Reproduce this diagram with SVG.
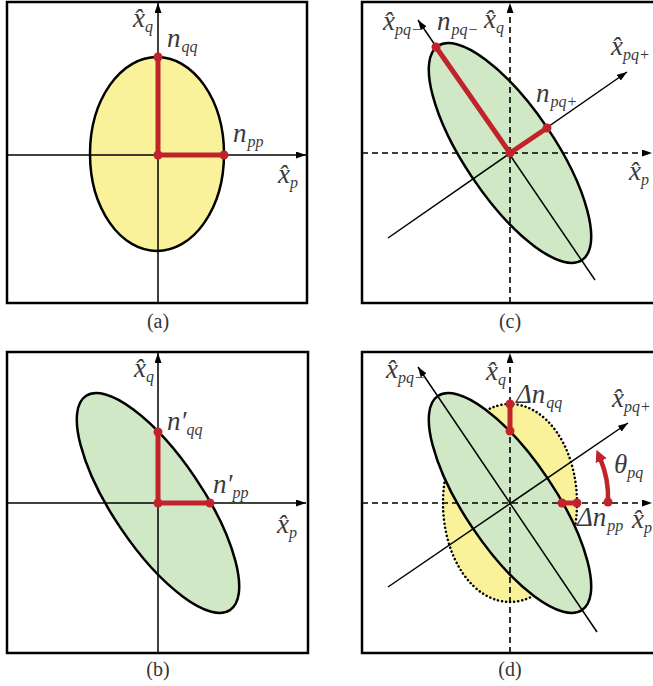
<svg xmlns="http://www.w3.org/2000/svg" width="653" height="686" viewBox="0 0 653 686">
<style>
.box{fill:none;stroke:#000;stroke-width:2.5}
.ax{fill:none;stroke:#000;stroke-width:1.5}
.dax{fill:none;stroke:#000;stroke-width:1.6;stroke-dasharray:6,4}
.ey{fill:#FAF29B;stroke:#000;stroke-width:2.5}
.eg{fill:#D0E8C6;stroke:#000;stroke-width:2.5}
.ed{fill:#FAF29B;stroke:#000;stroke-width:2.5;stroke-dasharray:0.1,4;stroke-linecap:round}
.red{fill:none;stroke:#C1232B;stroke-width:5;stroke-linecap:round;stroke-linejoin:round}
.dot{fill:#C1232B}
text{font-family:'Liberation Serif','Times New Roman',serif}
.lb{font-style:italic;font-size:27px;fill:#3a3a3a}
.sb{font-size:16px}
.cap{font-size:20px;fill:#333;text-anchor:middle}
</style>
<defs>
<marker id="ar" viewBox="0 0 10 7" refX="10" refY="3.5" markerWidth="10" markerHeight="7" markerUnits="userSpaceOnUse" orient="auto"><path d="M0,0L10,3.5L0,7z" fill="#000"/></marker>
<marker id="arr" viewBox="0 0 12 12" refX="3" refY="6" markerWidth="12" markerHeight="12" markerUnits="userSpaceOnUse" orient="auto"><path d="M0,0L12,6L0,12z" fill="#C1232B"/></marker>
</defs>

<g id="panel-a">
<rect class="box" x="7" y="2" width="300" height="301"/>
<ellipse class="ey" cx="157" cy="154" rx="67" ry="97"/>
<g id="axes-a">
<line class="ax" x1="7" y1="155" x2="306" y2="155" marker-end="url(#ar)"/>
<line class="ax" x1="158" y1="303" x2="158" y2="3" marker-end="url(#ar)"/>
</g>
<path class="red" d="M158,57V155H224"/>
<circle class="dot" cx="158" cy="57" r="4.5"/><circle class="dot" cx="158" cy="155" r="4.5"/><circle class="dot" cx="224" cy="155" r="4.5"/>
<text class="lb" x="133" y="27">x̂<tspan class="sb" dy="5">q</tspan></text>
<text class="lb" x="167" y="47">n<tspan class="sb" dx="1" dy="5">qq</tspan></text>
<text class="lb" x="233" y="142">n<tspan class="sb" dx="1" dy="5">pp</tspan></text>
<text class="lb" x="278" y="183">x̂<tspan class="sb" dy="5">p</tspan></text>
<text class="cap" x="158" y="328">(a)</text>
</g>

<g id="panel-b">
<rect class="box" x="7" y="352" width="301" height="301"/>
<ellipse class="eg" cx="0" cy="0" rx="129" ry="45" transform="translate(158,503) rotate(56)"/>
<g id="axes-b">
<line class="ax" x1="7" y1="503" x2="306" y2="503" marker-end="url(#ar)"/>
<line class="ax" x1="158" y1="653" x2="158" y2="353" marker-end="url(#ar)"/>
</g>
<path class="red" d="M158,432V503H210"/>
<circle class="dot" cx="158" cy="432" r="4.5"/><circle class="dot" cx="158" cy="503" r="4.5"/><circle class="dot" cx="210" cy="503" r="4.5"/>
<text class="lb" x="134" y="377">x̂<tspan class="sb" dy="5">q</tspan></text>
<text class="lb" x="167" y="430">n′<tspan class="sb" dy="5">qq</tspan></text>
<text class="lb" x="213" y="493">n′<tspan class="sb" dy="5">pp</tspan></text>
<text class="lb" x="277" y="533">x̂<tspan class="sb" dy="5">p</tspan></text>
<text class="cap" x="158" y="676">(b)</text>
</g>

<g id="panel-c">
<rect class="box" x="362" y="2" width="300" height="301"/>
<ellipse class="eg" cx="0" cy="0" rx="129" ry="45" transform="translate(510,153) rotate(56)"/>
<g id="axes-c">
<line class="dax" x1="362" y1="153" x2="652" y2="153" marker-end="url(#ar)"/>
<line class="dax" x1="510" y1="303" x2="510" y2="3" marker-end="url(#ar)"/>
<line class="ax" x1="595" y1="280" x2="418" y2="20" marker-end="url(#ar)"/>
<line class="ax" x1="388" y1="238" x2="627" y2="72" marker-end="url(#ar)"/>
</g>
<path class="red" d="M436,47L510,153L547,128"/>
<circle class="dot" cx="436" cy="47" r="4.5"/><circle class="dot" cx="510" cy="153" r="4.5"/><circle class="dot" cx="547" cy="128" r="4.5"/>
<text class="lb" x="383" y="30">x̂<tspan class="sb" dy="5">pq−</tspan></text>
<text class="lb" x="437" y="30">n<tspan class="sb" dx="1" dy="5">pq−</tspan></text>
<text class="lb" x="484" y="28">x̂<tspan class="sb" dy="5">q</tspan></text>
<text class="lb" x="611" y="55">x̂<tspan class="sb" dy="5">pq+</tspan></text>
<text class="lb" x="536" y="102">n<tspan class="sb" dx="1" dy="5">pq+</tspan></text>
<text class="lb" x="629" y="180">x̂<tspan class="sb" dy="5">p</tspan></text>
<text class="cap" x="510" y="328">(c)</text>
</g>

<g id="panel-d">
<rect class="box" x="362" y="352" width="300" height="301"/>
<ellipse class="ed" cx="510" cy="503" rx="67" ry="99"/>
<ellipse class="eg" cx="0" cy="0" rx="129" ry="45" transform="translate(510,503) rotate(56)"/>
<g id="axes-d">
<line class="dax" x1="362" y1="503" x2="652" y2="503" marker-end="url(#ar)"/>
<line class="dax" x1="510" y1="653" x2="510" y2="353" marker-end="url(#ar)"/>
<line class="ax" x1="597" y1="632" x2="418" y2="367" marker-end="url(#ar)"/>
<line class="ax" x1="388" y1="587" x2="628" y2="423" marker-end="url(#ar)"/>
</g>
<path class="red" d="M510,404V431"/>
<path class="red" d="M562,503H577"/>
<circle class="dot" cx="510" cy="404" r="4.5"/><circle class="dot" cx="510" cy="431" r="4.5"/>
<circle class="dot" cx="562" cy="503" r="4.5"/><circle class="dot" cx="577" cy="503" r="4.5"/>
<path d="M608,502A100,100 0 0 0 600,458" fill="none" stroke="#C1232B" stroke-width="4.5" marker-end="url(#arr)"/>
<circle class="dot" cx="608" cy="502" r="4.5"/>
<text class="lb" x="386" y="378">x̂<tspan class="sb" dy="5">pq−</tspan></text>
<text class="lb" x="486" y="380">x̂<tspan class="sb" dy="5">q</tspan></text>
<text class="lb" x="516" y="403">Δn<tspan class="sb" dx="1" dy="5">qq</tspan></text>
<text class="lb" x="612" y="407">x̂<tspan class="sb" dy="5">pq+</tspan></text>
<text class="lb" x="614" y="473" font-size="30">θ<tspan class="sb" dy="5">pq</tspan></text>
<text class="lb" x="577" y="526">Δn<tspan class="sb" dx="1" dy="5">pp</tspan></text>
<text class="lb" x="632" y="528">x̂<tspan class="sb" dy="5">p</tspan></text>
<text class="cap" x="510" y="676">(d)</text>
</g>
</svg>
